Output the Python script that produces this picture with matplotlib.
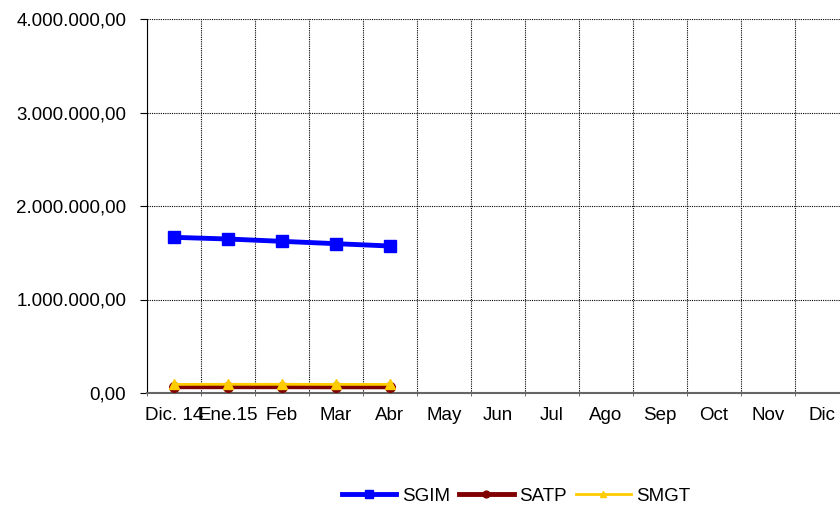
import matplotlib.pyplot as plt
import numpy as np
from matplotlib.ticker import FuncFormatter

plt.rcParams['font.family'] = ['Liberation Sans', 'DejaVu Sans']

months = ['Dic. 14', 'Ene.15', 'Feb', 'Mar', 'Abr', 'May', 'Jun', 'Jul',
          'Ago', 'Sep', 'Oct', 'Nov', 'Dic']
sgim = [1665000, 1647000, 1622000, 1597000, 1572000]
satp = [67000, 67000, 67000, 66000, 66000]
smgt = [92000, 93000, 93000, 92000, 92000]

fig = plt.figure(figsize=(8.4, 5.05), dpi=100)
# axes runs past the right edge of the figure, as in the original
ax = fig.add_axes([147 / 840, 1 - 393 / 505, (849 - 147) / 840, (393 - 19) / 505])

x = np.arange(len(sgim))
ax.plot(x, sgim, color='#0000FF', linewidth=3.5, marker='s', markersize=8, label='SGIM', zorder=3)
ax.plot(x, satp, color='#800000', linewidth=3.5, marker='o', markersize=7, label='SATP', zorder=3)
ax.plot(x, smgt, color='#FFCC00', linewidth=2, marker='^', markersize=7, label='SMGT', zorder=4)

ax.set_xlim(-0.5, len(months) - 0.5)
ax.set_ylim(0, 4000000)
ax.set_yticks(np.arange(0, 4000001, 1000000))
ax.yaxis.set_major_formatter(FuncFormatter(
    lambda v, p: f"{v:,.2f}".replace(',', 'X').replace('.', ',').replace('X', '.')))

ax.set_xticks(np.arange(len(months)))
ax.set_xticklabels(months)
ax.set_xticks(np.arange(len(months) + 1) - 0.5, minor=True)
ax.tick_params(axis='x', which='major', length=0, labelsize=13.5, pad=10)
ax.tick_params(axis='x', which='minor', length=5, direction='inout', color='#555555')
ax.tick_params(axis='y', length=5, direction='out', labelsize=13.5, pad=10)

ax.grid(True, which='minor', axis='x', color='black', linestyle=(0, (1, 1)), linewidth=0.8)
ax.grid(True, which='major', axis='y', color='black', linestyle=(0, (1, 1)), linewidth=0.8)
ax.set_axisbelow(True)

ax.spines['top'].set_visible(False)
ax.spines['right'].set_visible(False)
ax.spines['left'].set_color('black')
ax.spines['bottom'].set_color('#666666')
ax.spines['bottom'].set_linewidth(1.5)

fig.legend(loc='center', bbox_to_anchor=(516 / 840, 1 - 496 / 505), ncol=3, frameon=False,
           fontsize=13.5, handlelength=2.9, handletextpad=0.3, columnspacing=0.5,
           markerscale=0.7)

fig.savefig('out.png', dpi=100)
